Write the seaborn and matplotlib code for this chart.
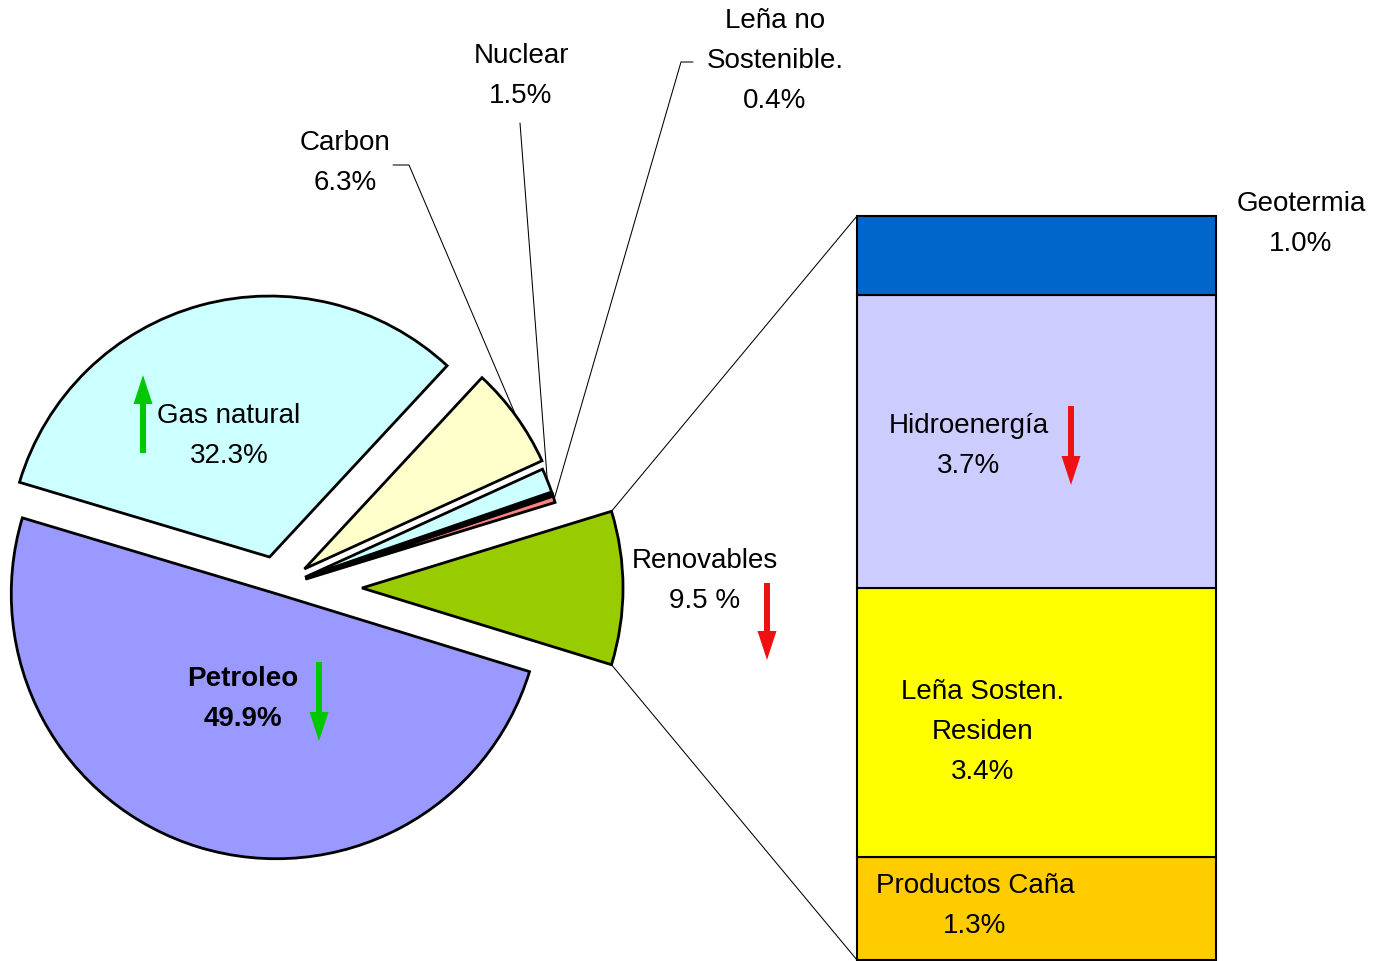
import numpy as np
import seaborn as sns
import matplotlib.pyplot as plt
from matplotlib.patches import ConnectionPatch

# Datos del grafico (pie + barra de renovables)
pie_names = ['Renovables', 'Leña no Sostenible', 'Otro a', 'Otro b', 'Nuclear', 'Carbon', 'Gas natural', 'Petroleo']
pie_values = [9.5, 0.4, 0.1, 0.05, 1.5, 6.3, 32.3, 49.9]
pie_colors = ['#99CC00', '#FF8080', '#800080', '#000080', '#CCFFFF', '#FFFFCC', '#CCFFFF', '#9999FF']
# desplazamiento de cada porcion (en pixeles)
pie_explode = [84, 29, 29, 29, 29, 32.6, 32.1, 6]

bar_names = ['Productos Caña', 'Leña Sosten. Residen', 'Hidroenergía', 'Geotermia']
bar_values = [1.3, 3.4, 3.7, 1.0]
bar_colors = ['#FFCC00', '#FFFF00', '#CCCCFF', '#0066CC']

W, H = 1376, 961

sns.set_theme(style="white")
plt.rcParams['font.family'] = ['Liberation Sans', 'DejaVu Sans']

fig = plt.figure(figsize=(W / 100, H / 100), dpi=100)

# Barra de renovables (debajo del eje principal)
ax2 = fig.add_axes([857 / W, 1 / H, 359 / W, 744 / H])
bottoms = np.concatenate([[0], np.cumsum(bar_values)[:-1]])
bars = ax2.bar(0, bar_values, bottom=bottoms, width=1, color=bar_colors,
               edgecolor='black', linewidth=1.5)
for b in bars:
    b.set_clip_on(False)
ax2.set_xlim(-0.5, 0.5)
ax2.set_ylim(0, sum(bar_values))
ax2.axis('off')

ax = fig.add_axes([0, 0, 1, 1])
ax.set_zorder(3)


def Y(py):
    return H - py


# Pie principal
total = sum(pie_values)
start = -(pie_values[0] / total * 360) / 2
wedges, _ = ax.pie(pie_values, colors=pie_colors, explode=pie_explode, startangle=start,
                   counterclock=True, radius=261, center=(278, Y(588)),
                   wedgeprops=dict(edgecolor='black', linewidth=2.0))
wedges[-1].set_radius(265)
ax.set_xlim(0, W)
ax.set_ylim(0, H)
ax.set_aspect('equal')
ax.axis('off')


def arc_point(w, frac):
    th = np.deg2rad(w.theta1 + (w.theta2 - w.theta1) * frac)
    return (w.center[0] + w.r * np.cos(th), w.center[1] + w.r * np.sin(th))


# Lineas de conexion pie -> barra
ren = wedges[0]
for frac, yb in [(1, sum(bar_values)), (0, 0)]:
    con = ConnectionPatch(xyA=arc_point(ren, frac), coordsA=ax.transData,
                          xyB=(-0.5, yb), coordsB=ax2.transData,
                          color='black', linewidth=0.75)
    fig.add_artist(con)

# Lineas guia de etiquetas
leaders = [
    (wedges[5], [(409, 165), (393, 165)]),
    (wedges[4], [(520, 123)]),
    (wedges[1], [(681, 62), (693, 62)]),
]
for w, pts in leaders:
    p0 = arc_point(w, 0.5)
    xs = [p0[0]] + [p[0] for p in pts]
    ys = [p0[1]] + [Y(p[1]) for p in pts]
    ax.plot(xs, ys, color='black', linewidth=0.75)


def label(x, y, lines, **kw):
    for i, s in enumerate(lines):
        ax.text(x, Y(y + 40 * i), s, ha='center', va='center', fontsize=20, color='black', **kw)


label(345, 143, ['Carbon', '6.3%'])
label(521, 56, ['Nuclear', '1.5%'])
label(775, 21, ['Leña no', 'Sostenible.', '0.4%'])
label(229, 416, ['Gas natural', '32.3%'])
label(243, 679, ['Petroleo', '49.9%'], fontweight='bold')
label(705, 561, ['Renovables', '9.5 %'])
label(1301, 204, ['Geotermia', '1.0%'])
label(969, 426, ['Hidroenergía', '3.7%'])
label(983, 692, ['Leña Sosten.', 'Residen', '3.4%'])
label(975, 886, ['Productos Caña', '1.3%'])

# Flechas de tendencia
green = '#00C800'
red = '#EE1111'
arrows = [(143, 453, 375, green), (319, 662, 741, green), (767, 583, 660, red), (1071, 406, 485, red)]
for x, y0, y1, c in arrows:
    ax.arrow(x, Y(y0), 0, Y(y1) - Y(y0), width=6, head_width=19, head_length=29,
             length_includes_head=True, color=c, linewidth=0)

fig.savefig('out.png', dpi=100)
